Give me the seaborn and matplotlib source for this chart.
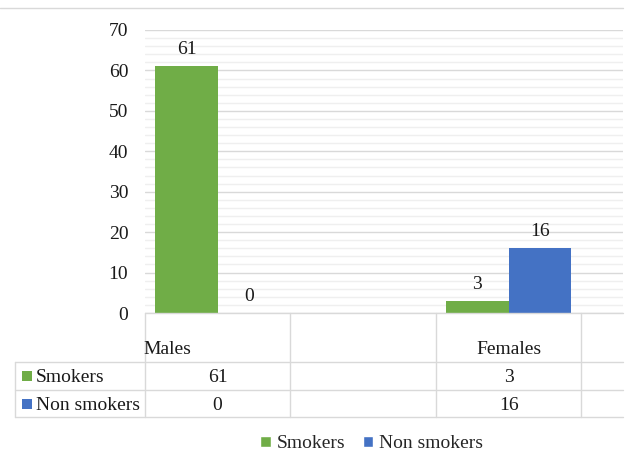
import matplotlib
matplotlib.use("Agg")
import matplotlib.pyplot as plt
import matplotlib.lines as mlines
import matplotlib.patches as mpatches
from matplotlib.ticker import MultipleLocator
import pandas as pd
import seaborn as sns

# Data
groups = ["Males", "Females"]
series = ["Smokers", "Non smokers"]
smokers = [61, 3]
non_smokers = [0, 16]
category_order = ["Males", " ", "Females"]
colors = {"Smokers": "#70AD47", "Non smokers": "#4472C4"}

df = pd.DataFrame({
    "group": groups * 2,
    "status": [series[0]] * len(groups) + [series[1]] * len(groups),
    "count": smokers + non_smokers,
})

sns.set_theme(style="white")
plt.rcParams["font.family"] = ["Liberation Serif", "DejaVu Serif"]
FS = 14

W, H = 627, 451
fig = plt.figure(figsize=(W / 100, H / 100), dpi=100)


def fx(px):
    return px / W


def fy(py):
    return 1 - py / H


ax_left, ax_right, ax_top, ax_bottom = 145, 623, 30, 313
ax = fig.add_axes([fx(ax_left), fy(ax_bottom), fx(ax_right - ax_left),
                   (ax_bottom - ax_top) / H])

sns.barplot(data=df, x="group", y="count", hue="status", order=category_order,
            hue_order=series, palette=colors, width=0.86, saturation=1,
            ax=ax, legend=True)

ax.set_ylim(0, 70)
ax.set_xlim(-0.5, 2.787)
ax.yaxis.set_major_locator(MultipleLocator(10))
ax.yaxis.set_minor_locator(MultipleLocator(2))
ax.grid(axis="y", which="major", color="#d9d9d9", linewidth=1.0)
ax.grid(axis="y", which="minor", color="#efefef", linewidth=1.0)
ax.set_axisbelow(True)
for s in ax.spines.values():
    s.set_visible(False)
ax.set_xticks([])
ax.set_xlabel("")
ax.set_ylabel("")
ax.tick_params(axis="y", which="both", length=0, pad=12, labelsize=FS,
               labelcolor="#1a1a1a")

for cont in ax.containers:
    for bar in cont:
        bar.set_edgecolor("none")
    ax.bar_label(cont, padding=6, fontsize=FS, color="#1a1a1a")

sns.move_legend(ax, "center", bbox_to_anchor=(fx(371.5), fy(444)),
                bbox_transform=fig.transFigure, ncol=2, frameon=False,
                title=None, fontsize=FS, handlelength=0.55, handleheight=0.55,
                handletextpad=0.3, columnspacing=0.9)

# Chart border line across the top
line_col = "#d9d9d9"


def hline(y, x0, x1):
    fig.add_artist(mlines.Line2D([fx(x0), fx(x1)], [fy(y), fy(y)],
                                 color=line_col, linewidth=1.0))


def vline(x, y0, y1):
    fig.add_artist(mlines.Line2D([fx(x), fx(x)], [fy(y0), fy(y1)],
                                 color=line_col, linewidth=1.0))


hline(8, 0, 623)

# Data table under the plot
col_edges = [145, 290, 436, 581]
row_edges = [313, 362, 390, 417]
hline(row_edges[0], 145, 623)
for y in row_edges[1:]:
    hline(y, 15, 623)
for x in col_edges:
    vline(x, 313, 417)
vline(15, 362, 417)

text_col = "#1a1a1a"
fig.text(fx(143), fy(350), "Males", ha="left", va="center", fontsize=FS,
         color=text_col)
fig.text(fx(509), fy(350), "Females", ha="center", va="center", fontsize=FS,
         color=text_col)

col_centers = [217.5, 509]
row_centers = [377, 405]
for r, (name, vals) in enumerate(zip(series, [smokers, non_smokers])):
    yc = row_centers[r]
    fig.add_artist(mpatches.Rectangle((fx(22), fy(yc + 4)), fx(10), 10 / H,
                                      facecolor=colors[name], edgecolor="none"))
    fig.text(fx(36), fy(yc), name, ha="left", va="center", fontsize=FS,
             color=text_col)
    for c, v in enumerate(vals):
        fig.text(fx(col_centers[c]), fy(yc), str(v), ha="center", va="center",
                 fontsize=FS, color=text_col)

fig.savefig("out.png", dpi=100)
